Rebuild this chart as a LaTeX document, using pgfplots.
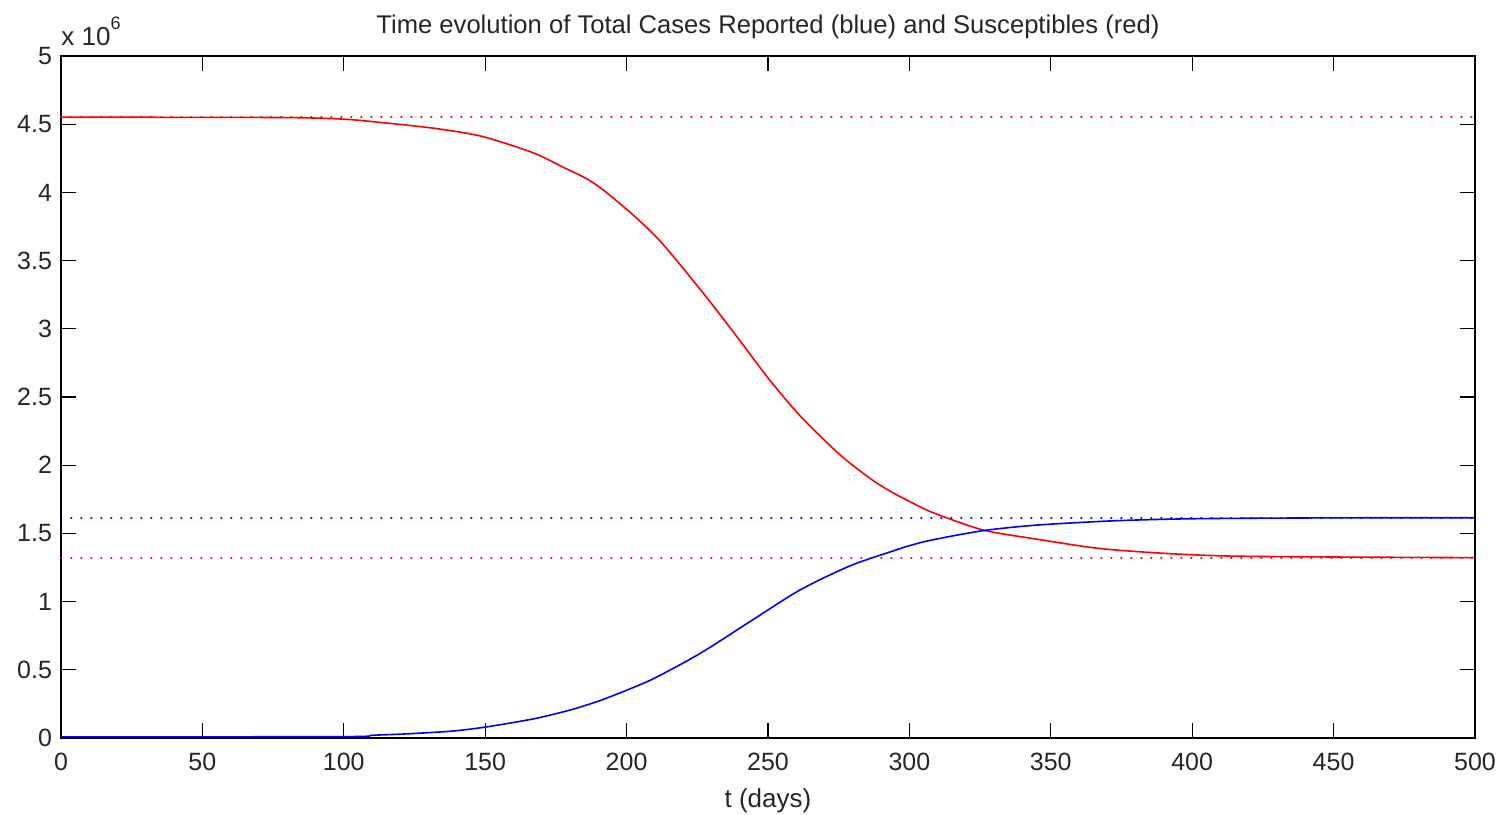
\documentclass[border=0pt]{standalone}
\usepackage{fontspec}
\setmainfont{Liberation Sans}
\usepackage{pgfplots}
\pgfplotsset{compat=1.18}
\begin{document}
\begin{tikzpicture}
\useasboundingbox (-30.5pt,-38pt) rectangle (719pt,369pt);
\begin{axis}[
  scale only axis,
  width=707pt, height=341pt,
  xmin=0, xmax=500, ymin=0, ymax=5,
  xtick={0,50,...,500},
  ytick={0,0.5,...,5},
  yticklabels={0,0.5,1,1.5,2,2.5,3,3.5,4,4.5,5},
  tick align=inside,
  major tick length=7.5pt,
  axis line style={black, line width=0.6pt},
  every tick/.style={black, line width=0.6pt},
  tick label style={font=\fontsize{12.5}{14}\selectfont, text=black!85},
  /pgf/number format/assume math mode=true,
  xticklabel style={yshift=-4pt},
  yticklabel style={xshift=-1pt},
  title={Time evolution of Total Cases Reported (blue) and Susceptibles (red)},
  title style={font=\fontsize{12.8}{14}\selectfont, yshift=-1pt, text=black!85},
  xlabel={t (days)},
  xlabel style={font=\fontsize{13}{14}\selectfont, yshift=-2pt, text=black!85},
  clip=false,
]
\addplot[color=red, line width=0.9pt, line cap=round, dash pattern=on 0.3pt off 4.7pt] coordinates {(0,4.551) (500,4.551)};
\addplot[color=red, line width=0.9pt, line cap=round, dash pattern=on 0.3pt off 4.7pt] coordinates {(0,1.322) (500,1.322)};
\addplot[color=blue, line width=0.9pt, line cap=round, dash pattern=on 0.3pt off 4.7pt] coordinates {(0,1.615) (500,1.615)};
\addplot[color=red, line width=0.8pt, smooth, tension=0.45] coordinates {
(0,4.551) (77,4.549) (99,4.538) (112,4.515) (132,4.47) (149,4.41)
(167,4.29) (178,4.18) (185,4.11) (191,4.03) (202,3.84) (212,3.64)
(226,3.29) (238,2.97) (250,2.64) (261,2.37) (275.5,2.075) (287,1.89)
(294,1.80) (300,1.735) (308,1.655) (326,1.525) (345,1.458) (367,1.39)
(390,1.354) (413,1.334) (450,1.327) (492,1.323) (500,1.322)
};
\addplot[color=blue, line width=0.8pt, smooth, tension=0.45] coordinates {
(0,0.008) (100,0.01) (110,0.02) (122,0.03) (138,0.05) (150,0.08) (167,0.14)
(180,0.205) (190,0.27) (200,0.35) (210,0.44) (226,0.62) (243.6,0.853)
(261.3,1.085) (279,1.262) (294,1.37) (300,1.41) (308,1.452)
(326,1.52) (345,1.561) (373,1.593) (402,1.608) (450,1.614) (500,1.615)
};
\node[anchor=south west, inner sep=0pt, font=\fontsize{13}{14}\selectfont, text=black!85]
  at (axis description cs:0,1) [yshift=5pt] {x 10\raisebox{0.6em}{\fontsize{9}{10}\selectfont 6}};
\end{axis}
\end{tikzpicture}
\end{document}
